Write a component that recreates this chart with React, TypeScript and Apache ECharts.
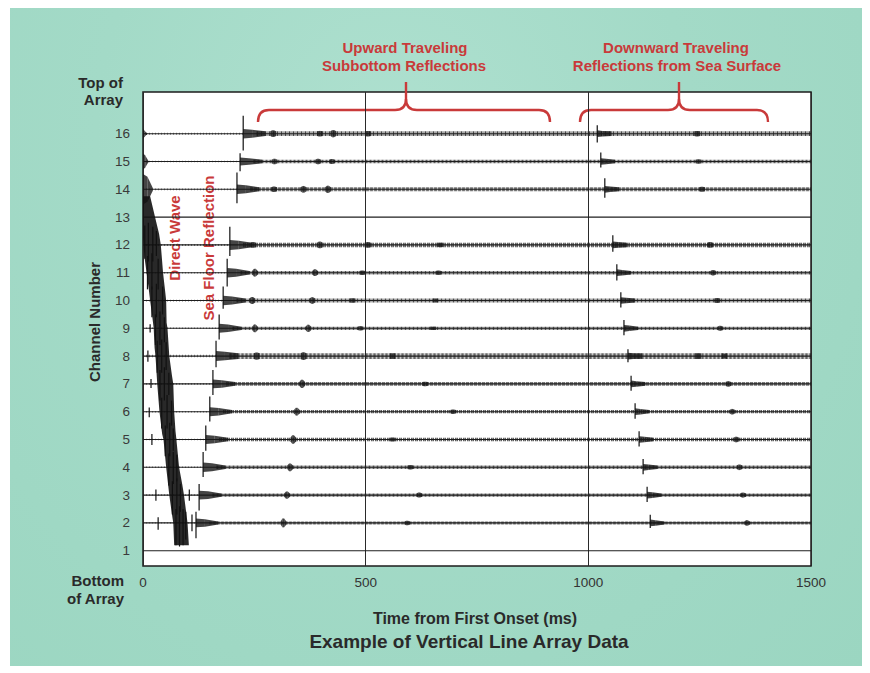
import React, { useEffect, useRef } from "react";
import * as echarts from "echarts";

// ---------- data ----------
const CHANNELS = [16, 15, 14, 13, 12, 11, 10, 9, 8, 7, 6, 5, 4, 3, 2, 1];
const ACTIVE = [16, 15, 14, 12, 11, 10, 9, 8, 7, 6, 5, 4, 3, 2];
const X_TICKS = [0, 500, 1000, 1500];

// sea-floor reflection onset (ms) per active channel
const SEA_FLOOR_ONSET = [225, 218, 211, 195, 189, 180, 171, 164, 157, 150, 141, 135, 126, 119];
const SEA_FLOOR_SPIKE_UP = [0.65, 0.3, 0.6, 0.65, 0.5, 0.5, 0.5, 0.55, 0.5, 0.55, 0.5, 0.55, 0.4, 0.4];
const SEA_FLOOR_SPIKE_DOWN = [0.6, 0.35, 0.5, 0.4, 0.5, 0.3, 0.4, 0.4, 0.4, 0.35, 0.4, 0.35, 0.55, 0.55];
const SEA_FLOOR_BURST = [0.17, 0.14, 0.17, 0.18, 0.17, 0.17, 0.16, 0.18, 0.16, 0.16, 0.16, 0.17, 0.16, 0.16];

// sea-surface reflection onset (ms)
const SURFACE_ONSET = [1020, 1028, 1037, 1055, 1064, 1073, 1080, 1089, 1096, 1105, 1114, 1123, 1132, 1139];
const SURFACE_SPIKE_UP = [0.3, 0.32, 0.4, 0.35, 0.3, 0.3, 0.3, 0.25, 0.29, 0.3, 0.3, 0.3, 0.3, 0.29];
const SURFACE_SPIKE_DOWN = [0.32, 0.22, 0.3, 0.25, 0.28, 0.25, 0.25, 0.22, 0.25, 0.25, 0.25, 0.25, 0.25, 0.18];

// background noise half-amplitude (channel units)
const NOISE = [0.085, 0.06, 0.07, 0.08, 0.065, 0.07, 0.06, 0.1, 0.065, 0.06, 0.06, 0.065, 0.06, 0.055];

// small wave bursts: [channel, time ms, half-amplitude]
const BURSTS: number[][] = [
  [16, 292, 0.12], [16, 397, 0.1], [16, 427, 0.13], [16, 505, 0.1], [16, 1244, 0.1],
  [15, 295, 0.1], [15, 393, 0.1], [15, 424, 0.09], [15, 1247, 0.08],
  [14, 294, 0.1], [14, 360, 0.12], [14, 415, 0.13], [14, 1255, 0.09],
  [12, 247, 0.1], [12, 397, 0.12], [12, 505, 0.1], [12, 667, 0.08], [12, 1273, 0.1],
  [11, 251, 0.14], [11, 386, 0.12], [11, 492, 0.08], [11, 663, 0.08], [11, 1280, 0.1],
  [10, 245, 0.13], [10, 380, 0.12], [10, 470, 0.08], [10, 656, 0.07], [10, 1289, 0.09],
  [9, 251, 0.14], [9, 371, 0.13], [9, 488, 0.08], [9, 651, 0.06], [9, 1296, 0.09],
  [8, 255, 0.13], [8, 360, 0.14], [8, 560, 0.1], [8, 1246, 0.1], [8, 1305, 0.09],
  [7, 357, 0.15], [7, 633, 0.08], [7, 1314, 0.1],
  [6, 345, 0.14], [6, 696, 0.08], [6, 1323, 0.1],
  [5, 337, 0.15], [5, 560, 0.07], [5, 1332, 0.1],
  [4, 330, 0.14], [4, 600, 0.08], [4, 1339, 0.1],
  [3, 323, 0.13], [3, 620, 0.09], [3, 1347, 0.09],
  [2, 315, 0.16], [2, 593, 0.08], [2, 1356, 0.1],
];

// direct wave band outline: [time ms, channel]
const DIRECT_LEFT: number[][] = [
  [0, 13.75], [0, 13.0], [0, 12.3], [3, 11.6], [8, 11.0], [13, 10.4], [16, 10.0], [21, 9.4],
  [24, 9.0], [26, 8.3], [28, 8.0], [32, 7.0], [37, 6.0], [43, 5.2], [46, 5.0], [52, 4.0],
  [59, 3.0], [66, 2.2], [68, 2.0], [70, 1.2],
];
const DIRECT_RIGHT: number[][] = [
  [16, 13.75], [27, 13.0], [36, 12.4], [40, 12.0], [43, 11.4], [45, 11.0], [50, 10.3], [52, 10.0],
  [53, 9.2], [55, 9.0], [59, 8.0], [65, 7.3], [68, 7.0], [70, 6.0], [73, 5.3], [75, 5.0],
  [81, 4.0], [88, 3.4], [92, 3.0], [100, 2.0], [103, 1.2],
];
// spikes inside / near the direct wave: [time, channel, up, down]
const DIRECT_SPIKES: number[][] = [
  [4, 12, 0.7, 0.5], [12, 12, 0.8, 0.6], [22, 12, 0.65, 0.6], [30, 12, 0.5, 0.4],
  [10, 11, 0.6, 0.6], [20, 11, 0.7, 0.6], [34, 11, 0.5, 0.6],
  [20, 10, 0.5, 0.6], [30, 10, 0.6, 0.6], [44, 10, 0.5, 0.5],
  [28, 9, 0.5, 0.6], [38, 9, 0.6, 0.6], [48, 9, 0.4, 0.5],
  [32, 8, 0.55, 0.6], [42, 8, 0.6, 0.6], [52, 8, 0.5, 0.5],
  [38, 7, 0.5, 0.6], [48, 7, 0.6, 0.6], [58, 7, 0.4, 0.4],
  [42, 6, 0.5, 0.6], [54, 6, 0.6, 0.6], [64, 6, 0.4, 0.5],
  [50, 5, 0.5, 0.6], [60, 5, 0.6, 0.6], [68, 5, 0.4, 0.4],
  [58, 4, 0.5, 0.65], [68, 4, 0.55, 0.6], [76, 4, 0.45, 0.5],
  [66, 3, 0.5, 0.7], [76, 3, 0.6, 0.7], [84, 3, 0.4, 0.6],
  [74, 2, 0.5, 0.8], [82, 2, 0.6, 0.85], [90, 2, 0.5, 0.8], [96, 2, 0.4, 0.6],
  [11, 8, 0.2, 0.2], [18, 7, 0.18, 0.15], [14, 6, 0.15, 0.2], [20, 5, 0.2, 0.2], [16, 9, 0.15, 0.15],
  [29, 3, 0.2, 0.2], [34, 2, 0.2, 0.25], [110, 2, 0.3, 0.3], [104, 3, 0.2, 0.2],
];
// early blobs on the top channels: [t0, t1, channel, amp0, amp1]
const EARLY_BLOBS: number[][] = [
  [0, 10, 14, 0.55, 0.45], [10, 22, 14, 0.45, 0.05],
  [0, 5, 15, 0.3, 0.22], [5, 12, 15, 0.22, 0.03],
  [0, 4, 16, 0.18, 0.1], [4, 9, 16, 0.1, 0.02],
];

// ---------- derived mark lists ----------
const noiseSegments: number[][] = ACTIVE.map((ch, i) => [SEA_FLOOR_ONSET[i] + 30, 1500, ch, NOISE[i]]);
const preNoiseSegments: number[][] = ACTIVE.map((ch, i) => [0, SEA_FLOOR_ONSET[i], ch, NOISE[i] * 0.45]);
const burstSegments: number[][] = [];
ACTIVE.forEach((ch, i) => {
  const tR = SEA_FLOOR_ONSET[i];
  const b = SEA_FLOOR_BURST[i];
  burstSegments.push([tR, tR + 20, ch, b, b * 0.85]);
  burstSegments.push([tR + 20, tR + 50, ch, b * 0.85, NOISE[i]]);
  const tS = SURFACE_ONSET[i];
  burstSegments.push([tS, tS + 12, ch, 0.12, 0.1]);
  burstSegments.push([tS + 12, tS + 32, ch, 0.1, NOISE[i]]);
});
BURSTS.forEach(([ch, t, a]) => {
  const n = NOISE[ACTIVE.indexOf(ch)];
  burstSegments.push([t - 6, t - 2, ch, n, a]);
  burstSegments.push([t - 2, t + 2, ch, a, a]);
  burstSegments.push([t + 2, t + 7, ch, a, n]);
});
EARLY_BLOBS.forEach((b) => burstSegments.push(b));

const spikes: number[][] = [];
ACTIVE.forEach((ch, i) => {
  spikes.push([SEA_FLOOR_ONSET[i], ch, SEA_FLOOR_SPIKE_UP[i], SEA_FLOOR_SPIKE_DOWN[i]]);
  spikes.push([SURFACE_ONSET[i], ch, SURFACE_SPIKE_UP[i], SURFACE_SPIKE_DOWN[i]]);
});
DIRECT_SPIKES.forEach((s) => spikes.push(s));

const FONT = '"Liberation Sans", Arial, Helvetica, sans-serif';
const RED = "#c93a3a";
const INK = "#2a2a2a";

function segmentRender(fill: string, opacity: number) {
  return (params: any, api: any) => {
    const t0 = api.value(0), t1 = api.value(1), ch = api.value(2), a0 = api.value(3), a1 = api.value(4);
    const pts = [
      api.coord([t0, ch + a0]),
      api.coord([t1, ch + a1]),
      api.coord([t1, ch - a1]),
      api.coord([t0, ch - a0]),
    ];
    return { type: "polygon", shape: { points: pts }, style: { fill, opacity } };
  };
}

// hatched noise band: a thick dashed line whose width is the noise amplitude
function noiseRender(opacity: number, dash: number[]) {
  return (params: any, api: any) => {
    const t0 = api.value(0), t1 = api.value(1), ch = api.value(2), a = api.value(3);
    const p0 = api.coord([t0, ch]);
    const p1 = api.coord([t1, ch]);
    const w = Math.abs(api.coord([t0, ch - a])[1] - api.coord([t0, ch + a])[1]);
    return {
      type: "line",
      shape: { x1: p0[0], y1: p0[1], x2: p1[0], y2: p1[1] },
      style: { stroke: "#1f1f1f", lineWidth: w, lineDash: dash, opacity },
    };
  };
}

function brace(x0: number, x1: number, xm: number, yLine: number, yTail: number, yTip: number) {
  const st = { stroke: RED, lineWidth: 2.4, fill: "none" };
  const r = 11;
  return [
    { type: "bezierCurve", shape: { x1: x0, y1: yTail, x2: x0 + r, y2: yLine, cpx1: x0, cpy1: yLine }, style: st },
    { type: "line", shape: { x1: x0 + r, y1: yLine, x2: xm - r, y2: yLine }, style: st },
    { type: "bezierCurve", shape: { x1: xm - r, y1: yLine, x2: xm, y2: yLine - r, cpx1: xm, cpy1: yLine }, style: st },
    { type: "bezierCurve", shape: { x1: xm + r, y1: yLine, x2: xm, y2: yLine - r, cpx1: xm, cpy1: yLine }, style: st },
    { type: "line", shape: { x1: xm, y1: yLine - r, x2: xm, y2: yTip }, style: st },
    { type: "line", shape: { x1: xm + r, y1: yLine, x2: x1 - r, y2: yLine }, style: st },
    { type: "bezierCurve", shape: { x1: x1 - r, y1: yLine, x2: x1, y2: yTail, cpx1: x1, cpy1: yLine }, style: st },
  ];
}

function txt(text: string, x: number, y: number, size: number, fill: string, align = "center", rotation = 0) {
  return {
    type: "text",
    x,
    y,
    rotation,
    silent: true,
    style: { text, fill, font: `bold ${size}px ${FONT}`, align, verticalAlign: "middle" },
  };
}

export default function App() {
  const ref = useRef<HTMLDivElement>(null);
  useEffect(() => {
    if (!ref.current) return;
    const chart = echarts.init(ref.current, undefined, { renderer: "svg" });
    const option: any = {
      animation: false,
      backgroundColor: "transparent",
      grid: {
        left: 143, right: 59, top: 92, bottom: 107, show: true,
        backgroundColor: "#ffffff", borderColor: "#1c1c1c", borderWidth: 1.5,
      },
      xAxis: {
        type: "value", min: 0, max: 1500, interval: 500,
        axisLine: { show: false }, axisTick: { show: false },
        splitLine: { show: true, lineStyle: { color: "#2a2a2a", width: 1 } },
        axisLabel: {
          fontSize: 13.5, color: "#333", margin: 9, fontFamily: FONT, customValues: X_TICKS,
          formatter: (v: number) => String(v),
        },
      },
      yAxis: {
        type: "value", min: 0.45, max: 17.5,
        axisLine: { show: false }, axisTick: { show: false }, splitLine: { show: false },
        axisLabel: {
          fontSize: 13.5, color: "#3a3a3a", margin: 13, fontFamily: FONT, customValues: CHANNELS,
          formatter: (v: number) => String(v),
        },
      },
      series: [
        {
          type: "custom", name: "preNoise", clip: true, data: preNoiseSegments,
          encode: { x: [0, 1], y: 2 }, renderItem: noiseRender(0.55, [1, 2]),
        },
        {
          type: "custom", name: "noise", clip: true, data: noiseSegments,
          encode: { x: [0, 1], y: 2 }, renderItem: noiseRender(0.85, [1.4, 0.6, 0.9, 1.1]),
        },
        {
          type: "custom", name: "baseline", clip: true,
          data: CHANNELS.map((ch) => [0, 1500, ch]),
          encode: { x: [0, 1], y: 2 },
          renderItem: (p: any, api: any) => {
            const a = api.coord([api.value(0), api.value(2)]);
            const b = api.coord([api.value(1), api.value(2)]);
            return { type: "line", shape: { x1: a[0], y1: a[1], x2: b[0], y2: b[1] }, style: { stroke: "#1e1e1e", lineWidth: 1.1 } };
          },
        },
        {
          type: "custom", name: "bursts", clip: true, data: burstSegments,
          encode: { x: [0, 1], y: 2 }, renderItem: segmentRender("#161616", 0.8),
        },
        {
          type: "custom", name: "direct", clip: true, data: [[0, 13]],
          encode: { x: 0, y: 1 },
          renderItem: (p: any, api: any) => {
            const pts = DIRECT_LEFT.map((d) => api.coord(d)).concat(
              DIRECT_RIGHT.slice().reverse().map((d) => api.coord(d))
            );
            return { type: "polygon", shape: { points: pts }, style: { fill: "#121212", opacity: 0.9 } };
          },
        },
        {
          type: "custom", name: "spikes", clip: true, data: spikes,
          encode: { x: 0, y: 1 },
          renderItem: (p: any, api: any) => {
            const t = api.value(0), ch = api.value(1);
            const a = api.coord([t, ch + api.value(2)]);
            const b = api.coord([t, ch - api.value(3)]);
            return { type: "line", shape: { x1: a[0], y1: a[1], x2: b[0], y2: b[1] }, style: { stroke: "#111", lineWidth: 1.2 } };
          },
        },
      ],
      graphic: [
        txt("Top of", 123, 82, 15, INK, "right"),
        txt("Array", 123, 99.5, 15, INK, "right"),
        txt("Bottom", 124, 580, 15, INK, "right"),
        txt("of Array", 124, 598, 15, INK, "right"),
        txt("Channel Number", 94, 322, 15, INK, "center", Math.PI / 2),
        txt("Time from First Onset (ms)", 475, 618, 16, INK),
        txt("Example of Vertical Line Array Data", 469, 641, 19, INK),
        txt("Upward Traveling", 405, 47, 15, RED),
        txt("Subbottom Reflections", 404, 65, 15, RED),
        txt("Downward Traveling", 676, 47, 15, RED),
        txt("Reflections from Sea Surface", 677, 65, 15, RED),
        txt("Direct Wave", 174, 238, 15, RED, "center", Math.PI / 2),
        txt("Sea Floor Reflection", 208, 248, 15, RED, "center", Math.PI / 2),
        ...brace(258, 550, 406, 110, 122, 82),
        ...brace(580, 768, 679, 110, 122, 82),
      ],
    };
    chart.setOption(option);
    return () => chart.dispose();
  }, []);

  return (
    <div style={{ position: "fixed", left: 0, top: 0, width: 870, height: 673, background: "#ffffff" }}>
      <div
        style={{
          position: "absolute", left: 10, top: 8, width: 852, height: 658,
          background: "radial-gradient(ellipse at 45% 20%, #aee0cf 0%, #a3dac7 45%, #9bd6c1 100%)",
        }}
      />
      <div ref={ref} style={{ position: "absolute", left: 0, top: 0, width: 870, height: 673 }} />
    </div>
  );
}
